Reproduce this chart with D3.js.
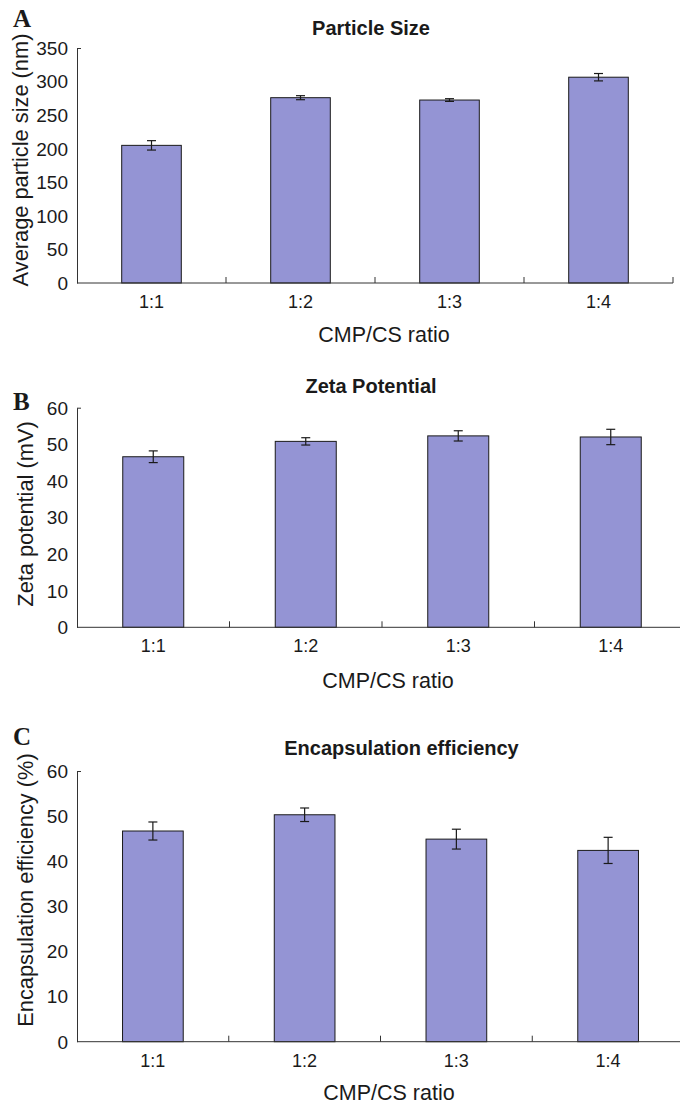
<!DOCTYPE html>
<html>
<head>
<meta charset="utf-8">
<script src="https://cdn.jsdelivr.net/npm/d3@7"></script>
<style>
  body { margin: 0; background: #fff; }
  text { font-family: "Liberation Sans", Arial, sans-serif; fill: #1a1a1a; }
</style>
</head>
<body>
<svg id="chart" width="680" height="1106"></svg>
<script>
// values
var ratios = ['1:1', '1:2', '1:3', '1:4'];

var sizeMean = [205, 276, 272.5, 306.5];
var sizeErr  = [7, 3, 2, 5.5];
var sizeTicks = [0, 50, 100, 150, 200, 250, 300, 350];

var zetaMean = [46.6, 50.8, 52.3, 52.0];
var zetaErr  = [1.6, 1.0, 1.4, 2.1];
var zetaTicks = [0, 10, 20, 30, 40, 50, 60];

var eeMean = [46.7, 50.3, 44.9, 42.4];
var eeErr  = [2.0, 1.5, 2.2, 2.9];
var eeTicks = [0, 10, 20, 30, 40, 50, 60];

var svg = d3.select('#chart');

function drawPanel(p) {
  var g = svg.append('g');

  var x = d3.scaleBand()
    .domain(ratios)
    .range([p.left, p.right])
    .paddingInner(0.6)
    .paddingOuter(0.3);

  var y = d3.scaleLinear()
    .domain([0, p.max])
    .range([p.bottom, p.top]);

  // bars
  g.selectAll('rect.bar')
    .data(p.mean)
    .enter()
    .append('rect')
    .attr('class', 'bar')
    .attr('x', function(d, i) { return x(ratios[i]); })
    .attr('width', x.bandwidth())
    .attr('y', function(d) { return y(d); })
    .attr('height', function(d) { return p.bottom - y(d); })
    .attr('fill', '#9494d4')
    .attr('stroke', '#1a1a1a')
    .attr('stroke-width', 1);

  // error bars
  var eb = g.selectAll('g.err')
    .data(p.mean)
    .enter()
    .append('g')
    .attr('stroke', '#1a1a1a')
    .attr('stroke-width', 1.2);
  var cx = function(d, i) { return x(ratios[i]) + x.bandwidth() / 2; };
  eb.append('line')
    .attr('x1', cx).attr('x2', cx)
    .attr('y1', function(d, i) { return y(d + p.err[i]); })
    .attr('y2', function(d, i) { return y(d - p.err[i]); });
  eb.append('line')
    .attr('x1', function(d, i) { return cx(d, i) - 4.5; })
    .attr('x2', function(d, i) { return cx(d, i) + 4.5; })
    .attr('y1', function(d, i) { return y(d + p.err[i]); })
    .attr('y2', function(d, i) { return y(d + p.err[i]); });
  eb.append('line')
    .attr('x1', function(d, i) { return cx(d, i) - 4.5; })
    .attr('x2', function(d, i) { return cx(d, i) + 4.5; })
    .attr('y1', function(d, i) { return y(d - p.err[i]); })
    .attr('y2', function(d, i) { return y(d - p.err[i]); });

  // y axis: plain line, a small inward tick only at the top value
  var yAxis = d3.axisRight(y)
    .tickValues([p.max])
    .tickSizeInner(4)
    .tickSizeOuter(0)
    .tickFormat('');
  g.append('g')
    .attr('transform', 'translate(' + p.left + ',0)')
    .call(yAxis)
    .call(function(a) {
      a.selectAll('path, line').attr('stroke', '#333');
    });

  g.selectAll('text.ytick')
    .data(p.ticks)
    .enter()
    .append('text')
    .attr('x', p.left - 9)
    .attr('y', function(d) { return y(d); })
    .attr('dy', '0.36em')
    .attr('text-anchor', 'end')
    .style('font-size', '19px')
    .text(function(d) { return d; });

  // x axis: line with upward ticks on category boundaries
  g.append('line')
    .attr('x1', p.left).attr('x2', p.right)
    .attr('y1', p.bottom).attr('y2', p.bottom)
    .attr('stroke', '#333');
  var step = x.step();
  var bounds = d3.range(1, ratios.length + 1).map(function(i) { return p.left + i * step; });
  g.selectAll('line.xtick')
    .data(bounds)
    .enter()
    .append('line')
    .attr('x1', function(d) { return d; })
    .attr('x2', function(d) { return d; })
    .attr('y1', p.bottom)
    .attr('y2', p.bottom - 6)
    .attr('stroke', '#333');

  g.selectAll('text.xtick')
    .data(ratios)
    .enter()
    .append('text')
    .attr('x', function(d) { return x(d) + x.bandwidth() / 2; })
    .attr('y', p.bottom + 25)
    .attr('text-anchor', 'middle')
    .style('font-size', '18px')
    .text(function(d) { return d; });

  // labels
  g.append('text')
    .attr('x', p.xlabX)
    .attr('y', p.bottom + p.xlabDy)
    .attr('text-anchor', 'middle')
    .style('font-size', '21.5px')
    .text('CMP/CS ratio');

  g.append('text')
    .attr('transform', 'translate(' + p.ylabX + ',' + p.ylabY + ') rotate(-90)')
    .attr('text-anchor', 'middle')
    .style('font-size', '21.8px')
    .text(p.ylab);

  g.append('text')
    .attr('x', p.titleX)
    .attr('y', p.titleY)
    .attr('text-anchor', 'middle')
    .style('font-size', '20px')
    .style('font-weight', 'bold')
    .text(p.title);

  g.append('text')
    .attr('x', 13)
    .attr('y', p.letterY)
    .style('font-family', '"Liberation Serif", "Times New Roman", serif')
    .style('font-size', '25px')
    .style('font-weight', 'bold')
    .text(p.letter);
}

drawPanel({
  letter: 'A', letterY: 27,
  title: 'Particle Size', titleX: 371, titleY: 35,
  ylab: 'Average particle size (nm)', ylabX: 28, ylabY: 160,
  xlabX: 384, xlabDy: 59,
  left: 77, right: 673, top: 48, bottom: 283,
  max: 350, ticks: sizeTicks, mean: sizeMean, err: sizeErr
});

drawPanel({
  letter: 'B', letterY: 410,
  title: 'Zeta Potential', titleX: 371, titleY: 393,
  ylab: 'Zeta potential (mV)', ylabX: 32.5, ylabY: 514,
  xlabX: 388, xlabDy: 61,
  left: 77, right: 687, top: 407.7, bottom: 627.3,
  max: 60, ticks: zetaTicks, mean: zetaMean, err: zetaErr
});

drawPanel({
  letter: 'C', letterY: 745,
  title: 'Encapsulation efficiency', titleX: 401.5, titleY: 755,
  ylab: 'Encapsulation efficiency (%)', ylabX: 33, ylabY: 890,
  xlabX: 389, xlabDy: 58,
  left: 77, right: 684, top: 771, bottom: 1041.7,
  max: 60, ticks: eeTicks, mean: eeMean, err: eeErr
});
</script>
</body>
</html>
